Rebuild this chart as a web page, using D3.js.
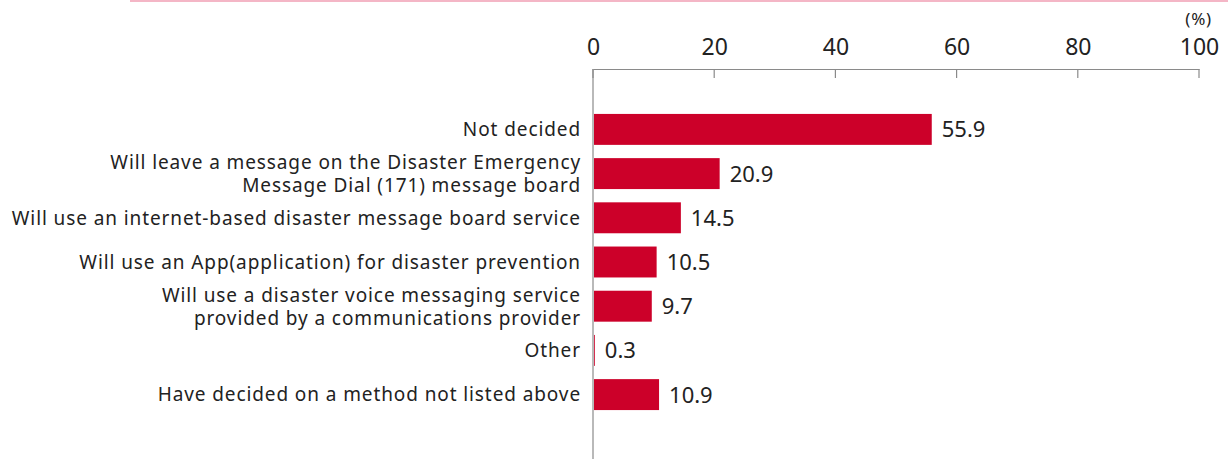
<!DOCTYPE html>
<html>
<head>
<meta charset="utf-8">
<script src="https://cdn.jsdelivr.net/npm/d3@7"></script>
<style>
  html, body { margin: 0; padding: 0; background: #fff; }
  svg { display: block; }
  text { font-family: "Noto Sans", sans-serif; fill: #222; }
</style>
</head>
<body>
<svg id="chart" width="1228" height="459"></svg>
<script>
// Answer categories (multi-line labels split on "\n")
const categories = [
  "Not decided",
  "Will leave a message on the Disaster Emergency\nMessage Dial (171) message board",
  "Will use an internet-based disaster message board service",
  "Will use an App(application) for disaster prevention",
  "Will use a disaster voice messaging service\nprovided by a communications provider",
  "Other",
  "Have decided on a method not listed above"
];
// Share of respondents (%)
const values = [55.9, 20.9, 14.5, 10.5, 9.7, 0.3, 10.9];
// Axis ticks
const tickValues = [0, 20, 40, 60, 80, 100];
const unitLabel = "(%)";

const svg = d3.select("#chart");
const W = 1228, H = 459;
const barColor = "#cc0029";
const axisColor = "#8a8a8a";

const x = d3.scaleLinear().domain([0, 100]).range([593, 1199]);
const y = d3.scaleBand()
  .domain(categories)
  .range([107.3, 416.7])
  .paddingInner(0.3)
  .paddingOuter(0.15);

const axisY = 69;

// Decorative rule along the top edge
svg.append("rect")
  .attr("x", 130).attr("y", 0)
  .attr("width", W - 130).attr("height", 2)
  .attr("fill", "#f4b6c6");

// Top value axis
const xAxis = d3.axisTop(x).tickValues(tickValues).tickSize(0).tickPadding(0);
const gx = svg.append("g").attr("transform", `translate(0,${axisY})`).call(xAxis);
gx.select(".domain").attr("stroke", axisColor).attr("stroke-width", 1.2);
gx.selectAll(".tick text")
  .attr("y", -14)
  .attr("font-size", 23)
  .attr("font-family", "Noto Sans, sans-serif")
  .attr("fill", "#222");

// Tick marks hang below the axis line
svg.append("g").selectAll("line")
  .data(tickValues)
  .join("line")
  .attr("x1", d => x(d)).attr("x2", d => x(d))
  .attr("y1", axisY).attr("y2", axisY + 9)
  .attr("stroke", axisColor).attr("stroke-width", 1.2);

svg.append("text")
  .attr("x", 1212).attr("y", 25)
  .attr("text-anchor", "end")
  .attr("font-size", 17)
  .attr("letter-spacing", 0.8)
  .text(unitLabel);

// Category baseline
svg.append("line")
  .attr("x1", x(0)).attr("x2", x(0))
  .attr("y1", axisY).attr("y2", H)
  .attr("stroke", axisColor).attr("stroke-width", 1.2);

// Bars
svg.append("g").selectAll("rect")
  .data(categories)
  .join("rect")
  .attr("x", x(0) + 1)
  .attr("y", d => y(d))
  .attr("width", (d, i) => Math.max(0, x(values[i]) - x(0) - 1))
  .attr("height", y.bandwidth())
  .attr("fill", barColor);

// Value labels
svg.append("g").selectAll("text")
  .data(categories)
  .join("text")
  .attr("x", (d, i) => x(values[i]) + 10)
  .attr("y", d => y(d) + y.bandwidth() / 2)
  .attr("dy", "0.36em")
  .attr("font-size", 22)
  .text((d, i) => values[i].toFixed(1));

// Category labels, right-aligned against the axis
const lineGap = 23;
svg.append("g").selectAll("text")
  .data(categories)
  .join("text")
  .attr("text-anchor", "end")
  .attr("font-size", 19)
  .attr("letter-spacing", 0.9)
  .each(function(d) {
    const lines = d.split("\n");
    const t = d3.select(this);
    const offset = -(lines.length - 1) * lineGap / 2;
    lines.forEach((ln, k) => {
      t.append("tspan")
        .attr("x", 581)
        .attr("y", y(d) + y.bandwidth() / 2 + offset + k * lineGap)
        .attr("dy", "0.36em")
        .text(ln);
    });
  });
</script>
</body>
</html>
